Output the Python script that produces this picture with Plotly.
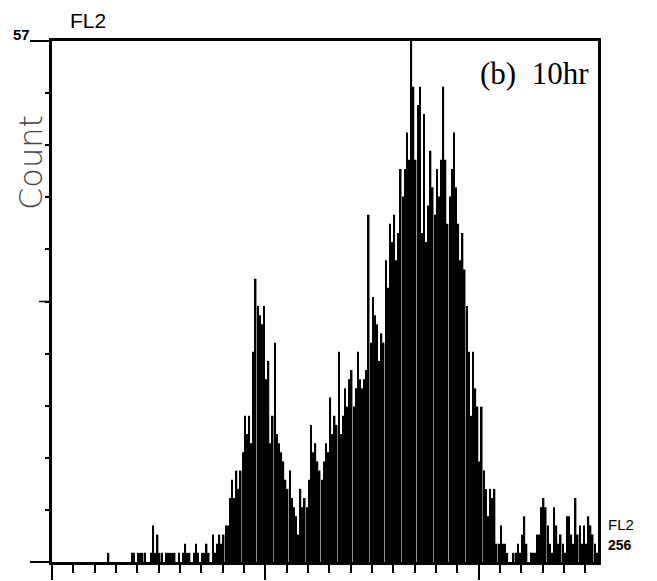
import plotly.graph_objects as go

# FL2 channel (0..255) and event counts
channels = list(range(256))
counts = [
    # 0-25
    0, 0, 0, 0, 0, 0, 0, 0, 0, 0, 0, 0, 0, 0, 0, 0, 0, 0, 0, 0, 0, 0, 0, 0, 0, 0,
    # 26-49
    1, 0, 0, 0, 0, 0, 0, 0, 0, 0, 0, 1, 1, 0, 1, 1, 1, 1, 0, 0, 1, 4, 1, 3,
    # 50-74
    1, 1, 0, 1, 1, 1, 1, 1, 0, 1, 0, 1, 2, 1, 1, 0, 1, 2, 1, 0, 1, 1, 2, 1, 0,
    # 75-99
    3, 1, 2, 3, 2, 3, 4, 4, 7, 9, 7, 10, 8, 10, 12, 16, 14, 16, 13, 23, 31, 28, 27, 26, 28,
    # 100-124
    20, 22, 13, 16, 24, 14, 13, 12, 11, 9, 8, 10, 7, 6, 5, 3, 8, 6, 7, 6, 9, 15, 12, 13, 11,
    # 125-149
    10, 9, 11, 13, 12, 18, 14, 16, 15, 23, 14, 16, 19, 17, 20, 21, 17, 19, 23, 20, 19, 20, 21, 38, 24,
    # 150-174
    29, 27, 26, 22, 25, 24, 33, 30, 37, 35, 38, 33, 36, 43, 40, 43, 47, 44, 57, 52, 44, 50, 52, 36, 49,
    # 175-199
    35, 39, 45, 41, 38, 43, 40, 44, 52, 44, 37, 40, 43, 47, 41, 37, 33, 36, 32, 28, 23, 16, 23, 19, 17,
    # 200-224
    11, 17, 10, 8, 5, 8, 7, 8, 2, 2, 4, 2, 2, 1, 0, 0, 1, 1, 2, 1, 3, 5, 2, 0, 1,
    # 225-255
    1, 1, 3, 3, 6, 7, 6, 4, 2, 1, 6, 4, 2, 3, 2, 1, 5, 5, 3, 2, 7, 3, 4, 2, 4, 2, 5, 4, 3, 2, 1,
]

x_range = [0, 256]
y_range = [0, 57]
x_major = [0, 100, 200]
x_minor_step = 10
y_major = [0, 57]
y_mid = 28.5
y_minor_step = 5.7

fig = go.Figure()
fig.add_trace(go.Bar(
    x=[c + 0.5 for c in channels],
    y=counts,
    width=0.72,
    marker=dict(color="black", line=dict(width=0)),
    hoverinfo="x+y",
))

# page body has an 8px default margin, so the plot area is offset by 8px here
fig.update_layout(
    width=657,
    height=581,
    margin=dict(l=44, r=67, t=33, b=27),
    paper_bgcolor="white",
    plot_bgcolor="white",
    showlegend=False,
    font=dict(family="Arial, Liberation Sans, sans-serif", color="black"),
)

fig.update_xaxes(
    range=x_range,
    showline=True, linewidth=3, linecolor="black", mirror=True,
    showgrid=False, zeroline=False,
    tickmode="array", tickvals=x_major, ticks="outside", ticklen=15, tickwidth=2, tickcolor="black",
    showticklabels=False,
    minor=dict(dtick=x_minor_step, tick0=0, ticks="outside", ticklen=8, tickwidth=2, tickcolor="black", showgrid=False),
)
fig.update_yaxes(
    range=y_range,
    showline=True, linewidth=3, linecolor="black", mirror=True,
    showgrid=False, zeroline=False,
    tickmode="array", tickvals=y_major, ticks="outside", ticklen=19, tickwidth=1.5, tickcolor="black",
    showticklabels=False,
    minor=dict(dtick=y_minor_step, tick0=0, ticks="outside", ticklen=4, tickwidth=1.5, tickcolor="black", showgrid=False),
)

# medium-length tick at the middle of the count axis
fig.add_shape(type="line", xref="paper", yref="y", x0=-0.024, x1=0, y0=y_mid, y1=y_mid,
              line=dict(color="black", width=1.5))

fig.add_annotation(text="<b>57</b>", xref="paper", yref="paper", x=0, y=1,
                   xanchor="right", yanchor="middle", xshift=-20, yshift=7,
                   showarrow=False, font=dict(size=15, family="Arial, Liberation Sans, sans-serif"))
fig.add_annotation(text="FL2", xref="paper", yref="paper", x=0, y=1,
                   xanchor="left", yanchor="middle", xshift=16, yshift=21,
                   showarrow=False, font=dict(size=21, family="Arial, Liberation Sans, sans-serif"))
fig.add_annotation(text="FL2", xref="paper", yref="paper", x=1, y=0,
                   xanchor="left", yanchor="middle", xshift=8, yshift=38,
                   showarrow=False, font=dict(size=15, family="Arial, Liberation Sans, sans-serif"))
fig.add_annotation(text="<b>256</b>", xref="paper", yref="paper", x=1, y=0,
                   xanchor="left", yanchor="middle", xshift=8, yshift=17,
                   showarrow=False, font=dict(size=14, family="Arial, Liberation Sans, sans-serif"))
fig.add_annotation(text="Count", xref="paper", yref="paper", x=0, y=1,
                   xanchor="center", yanchor="middle", xshift=-21, yshift=-122, textangle=-90,
                   showarrow=False, font=dict(size=32, family="DejaVu Sans", color="#444", weight=200))
fig.add_annotation(text="(b)&nbsp;&nbsp;10hr", xref="paper", yref="paper", x=1, y=1,
                   xanchor="right", yanchor="middle", xshift=-7, yshift=-32,
                   showarrow=False, font=dict(size=31, family="Liberation Serif, Times New Roman, serif"))

fig.write_html("out.html")
